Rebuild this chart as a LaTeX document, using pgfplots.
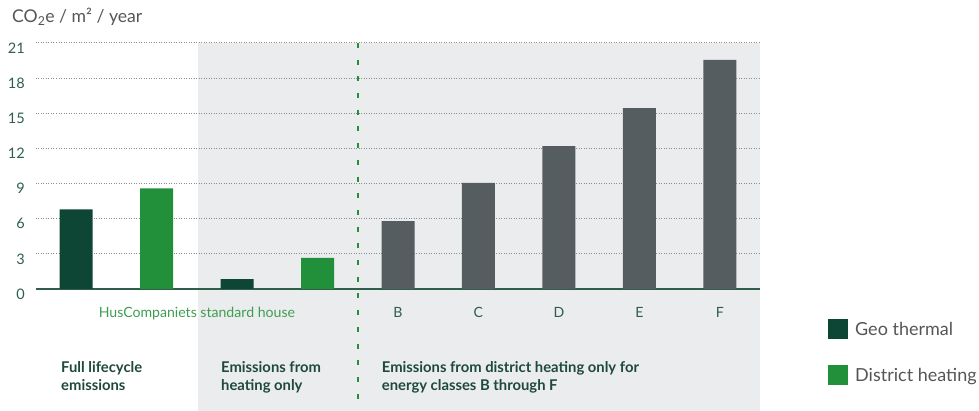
\documentclass[border=0pt]{standalone}
\usepackage{fontspec}
\setmainfont{Lato}
\usepackage{pgfplots}
\pgfplotsset{compat=1.18}
\definecolor{geo}{HTML}{0E4635}
\definecolor{dist}{HTML}{22903A}
\definecolor{greybar}{HTML}{555D61}
\definecolor{bgc}{HTML}{EBECEE}
\definecolor{gridc}{HTML}{8C8C8C}
\definecolor{axisgreen}{HTML}{2F5F4A}
\definecolor{tickc}{HTML}{2E5E4C}
\definecolor{husc}{HTML}{3E9E50}
\definecolor{boldc}{HTML}{1E4A3A}
\definecolor{legtext}{HTML}{555555}
\begin{document}
\begin{tikzpicture}[x=1pt,y=1pt]
\path[use as bounding box] (-36,-122) rectangle (943,289);
\fill[bgc] (162,-122) rectangle (724,246);
\begin{axis}[
  at={(0,0)}, anchor=south west,
  scale only axis, width=724pt, height=246pt,
  xmin=-0.5, xmax=8.5, ymin=0, ymax=21,
  axis x line=bottom, axis y line=left,
  x axis line style={draw=axisgreen, line width=1.5pt, -},
  y axis line style={draw=none},
  major tick length=0pt,
  ytick={0,3,...,21},
  xtick={1.5,4,5,6,7,8},
  xticklabels={\textcolor{husc}{HusCompaniets standard house},B,C,D,E,F},
  /pgf/number format/assume math mode=true,
  yticklabel style={anchor=east, inner sep=0pt, xshift=-11pt, yshift=-5pt, text=tickc, font=\fontsize{14.5}{16}\selectfont},
  xticklabel style={anchor=base, inner sep=0pt, yshift=-29pt, text=tickc, font=\fontsize{14.1}{16}\selectfont},
  ymajorgrids,
  grid style={gridc, line width=1pt, dash pattern=on 1pt off 1.5pt},
  ybar, bar width=33pt, bar shift=0pt,
  clip=false,
  legend image code/.code={\fill[#1] (0pt,-10pt) rectangle (20pt,10pt);},
  legend style={at={(1.0939,-0.122)}, anchor=north west, draw=none, fill=none, inner sep=0pt,
    row sep=26pt, column sep=7pt,
    nodes={inner sep=0pt, font=\fontsize{18}{20}\selectfont, text=legtext}},
  legend cell align=left,
]
\addplot[fill=geo, draw=none] coordinates {(0,6.8) (2,0.85)};
\addlegendentry{Geo thermal}
\addplot[fill=dist, draw=none] coordinates {(1,8.6) (3,2.65)};
\addlegendentry{District heating}
\addplot[fill=greybar, draw=none, forget plot] coordinates {(4,5.8) (5,9.05) (6,12.2) (7,15.45) (8,19.55)};
\draw[dist, line width=1.5pt, dash pattern=on 5pt off 11.7pt] (axis cs:3.5,21) -- (axis cs:3.5,-9.9);
\end{axis}
\node[anchor=base west, inner sep=0pt, text=legtext, font=\fontsize{17.6}{20}\selectfont] at (-24,266) {CO\textsubscript{2}e / m² / year};
\node[anchor=base west, inner sep=0pt, align=left, text=boldc, font=\fontsize{14.8}{17.5}\selectfont\bfseries] at (25,-101.2) {Full lifecycle\\emissions};
\node[anchor=base west, inner sep=0pt, align=left, text=boldc, font=\fontsize{14.8}{17.5}\selectfont\bfseries] at (185,-101.2) {Emissions from\\heating only};
\node[anchor=base west, inner sep=0pt, align=left, text=boldc, font=\fontsize{14.8}{17.5}\selectfont\bfseries] at (345.7,-101.2) {Emissions from district heating only for\\energy classes B through F};
\end{tikzpicture}
\end{document}
